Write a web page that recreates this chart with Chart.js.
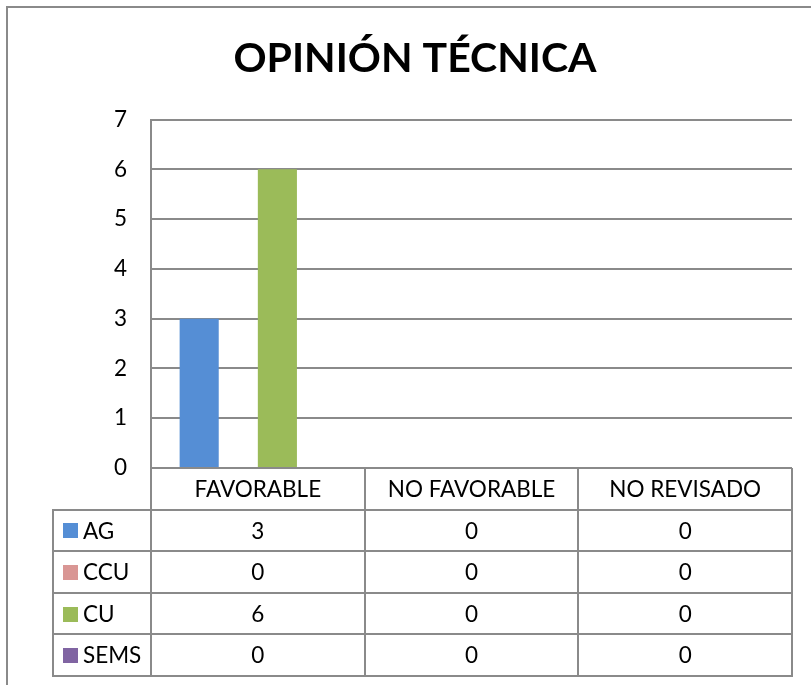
<!DOCTYPE html>
<html>
<head>
<meta charset="utf-8">
<script src="https://cdn.jsdelivr.net/npm/chart.js@4.4.1/dist/chart.umd.min.js"></script>
<style>
    html, body { margin: 0; padding: 0; background: #fff; }
    #wrap { width: 811px; height: 685px; }
</style>
</head>
<body>
<div id="wrap"><canvas id="opinion"></canvas></div>
<script>
// datos del grafico
var categories = ["FAVORABLE", "NO FAVORABLE", "NO REVISADO"];
var seriesNames = ["AG", "CCU", "CU", "SEMS"];
var agValues = [3, 0, 0];
var ccuValues = [0, 0, 0];
var cuValues = [6, 0, 0];
var semsValues = [0, 0, 0];
var yMax = 7;

var seriesValues = [agValues, ccuValues, cuValues, semsValues];
var seriesColors = ["#558ed5", "#d99694", "#9bbb59", "#8064a2"];
var lineColor = "#8a8a8a";
var fontFamily = "Lato, 'Open Sans', sans-serif";

// borde exterior del objeto grafico
var frame = {
    id: "frame",
    beforeDraw: function (chart) {
        var ctx = chart.ctx;
        ctx.save();
        ctx.strokeStyle = lineColor;
        ctx.lineWidth = 2;
        ctx.beginPath();
        ctx.moveTo(7, chart.height);
        ctx.lineTo(7, 7);
        ctx.lineTo(chart.width, 7);
        ctx.stroke();
        ctx.restore();
    }
};

// tabla de datos debajo del eje
var dataTable = {
    id: "dataTable",
    afterDraw: function (chart) {
        var ctx = chart.ctx;
        var area = chart.chartArea;
        var xs = chart.scales.x;
        var colW = (area.right - area.left) / categories.length;
        var rowH = (xs.bottom - xs.top) / (seriesNames.length + 1);
        var top = area.bottom;
        var bottom = xs.bottom;
        var legLeft = 53;

        ctx.save();
        ctx.strokeStyle = lineColor;
        ctx.lineWidth = 2;
        ctx.beginPath();
        // verticales
        for (var i = 0; i <= categories.length; i++) {
            var vx = Math.round(area.left + i * colW);
            ctx.moveTo(vx, top);
            ctx.lineTo(vx, bottom);
        }
        ctx.moveTo(legLeft, top + rowH);
        ctx.lineTo(legLeft, bottom);
        // horizontales
        for (var r = 1; r <= seriesNames.length + 1; r++) {
            var hy = Math.round(top + r * rowH);
            ctx.moveTo(legLeft - 1, hy);
            ctx.lineTo(area.right + 1, hy);
        }
        ctx.stroke();

        ctx.fillStyle = "#000";
        ctx.font = "22.5px " + fontFamily;
        ctx.textAlign = "center";
        ctx.textBaseline = "middle";
        $each(categories, function (c, i) {
            ctx.fillText(c, xs.getPixelForValue(i), top + rowH / 2 + 1);
        });
        $each(seriesNames, function (name, s) {
            var cy = top + (s + 1.5) * rowH + 1;
            ctx.fillStyle = seriesColors[s];
            ctx.fillRect(63, Math.round(cy - 8), 15, 15);
            ctx.fillStyle = "#000";
            ctx.textAlign = "left";
            ctx.fillText(name, 83, cy);
            ctx.textAlign = "center";
            $each(seriesValues[s], function (v, i) {
                ctx.fillText(String(v), xs.getPixelForValue(i), cy);
            });
        });
        ctx.restore();
    }
};

function $each(arr, fn) {
    for (var i = 0; i < arr.length; i++) fn(arr[i], i);
}

var datasets = [];
$each(seriesNames, function (name, s) {
    datasets.push({
        label: name,
        data: seriesValues[s],
        backgroundColor: seriesColors[s],
        borderWidth: 0,
        barPercentage: 1.0,
        categoryPercentage: 0.732
    });
});

var ctx = document.getElementById("opinion").getContext("2d");
new Chart(ctx, {
    type: "bar",
    data: { labels: categories, datasets: datasets },
    options: {
        responsive: true,
        maintainAspectRatio: false,
        animation: false,
        layout: { padding: { left: 38, right: 19, top: 0, bottom: 9 } },
        plugins: {
            legend: { display: false },
            tooltip: { enabled: false },
            title: {
                display: true,
                text: "OPINIÓN TÉCNICA",
                color: "#000",
                font: { family: fontFamily, size: 41, weight: "bold", lineHeight: 1.2 },
                padding: { top: 34, bottom: 36.4 }
            }
        },
        scales: {
            x: {
                grid: { display: false },
                border: { display: false },
                ticks: { display: false },
                afterFit: function (scale) { scale.height = 208; }
            },
            y: {
                min: 0,
                max: yMax,
                ticks: {
                    stepSize: 1,
                    color: "#000",
                    padding: 24,
                    font: { family: fontFamily, size: 22.5 }
                },
                grid: { color: lineColor, lineWidth: 2, drawTicks: false },
                border: { display: true, color: lineColor, width: 2 },
                afterFit: function (scale) { scale.width = 113; }
            }
        }
    },
    plugins: [frame, dataTable]
});
</script>
</body>
</html>
